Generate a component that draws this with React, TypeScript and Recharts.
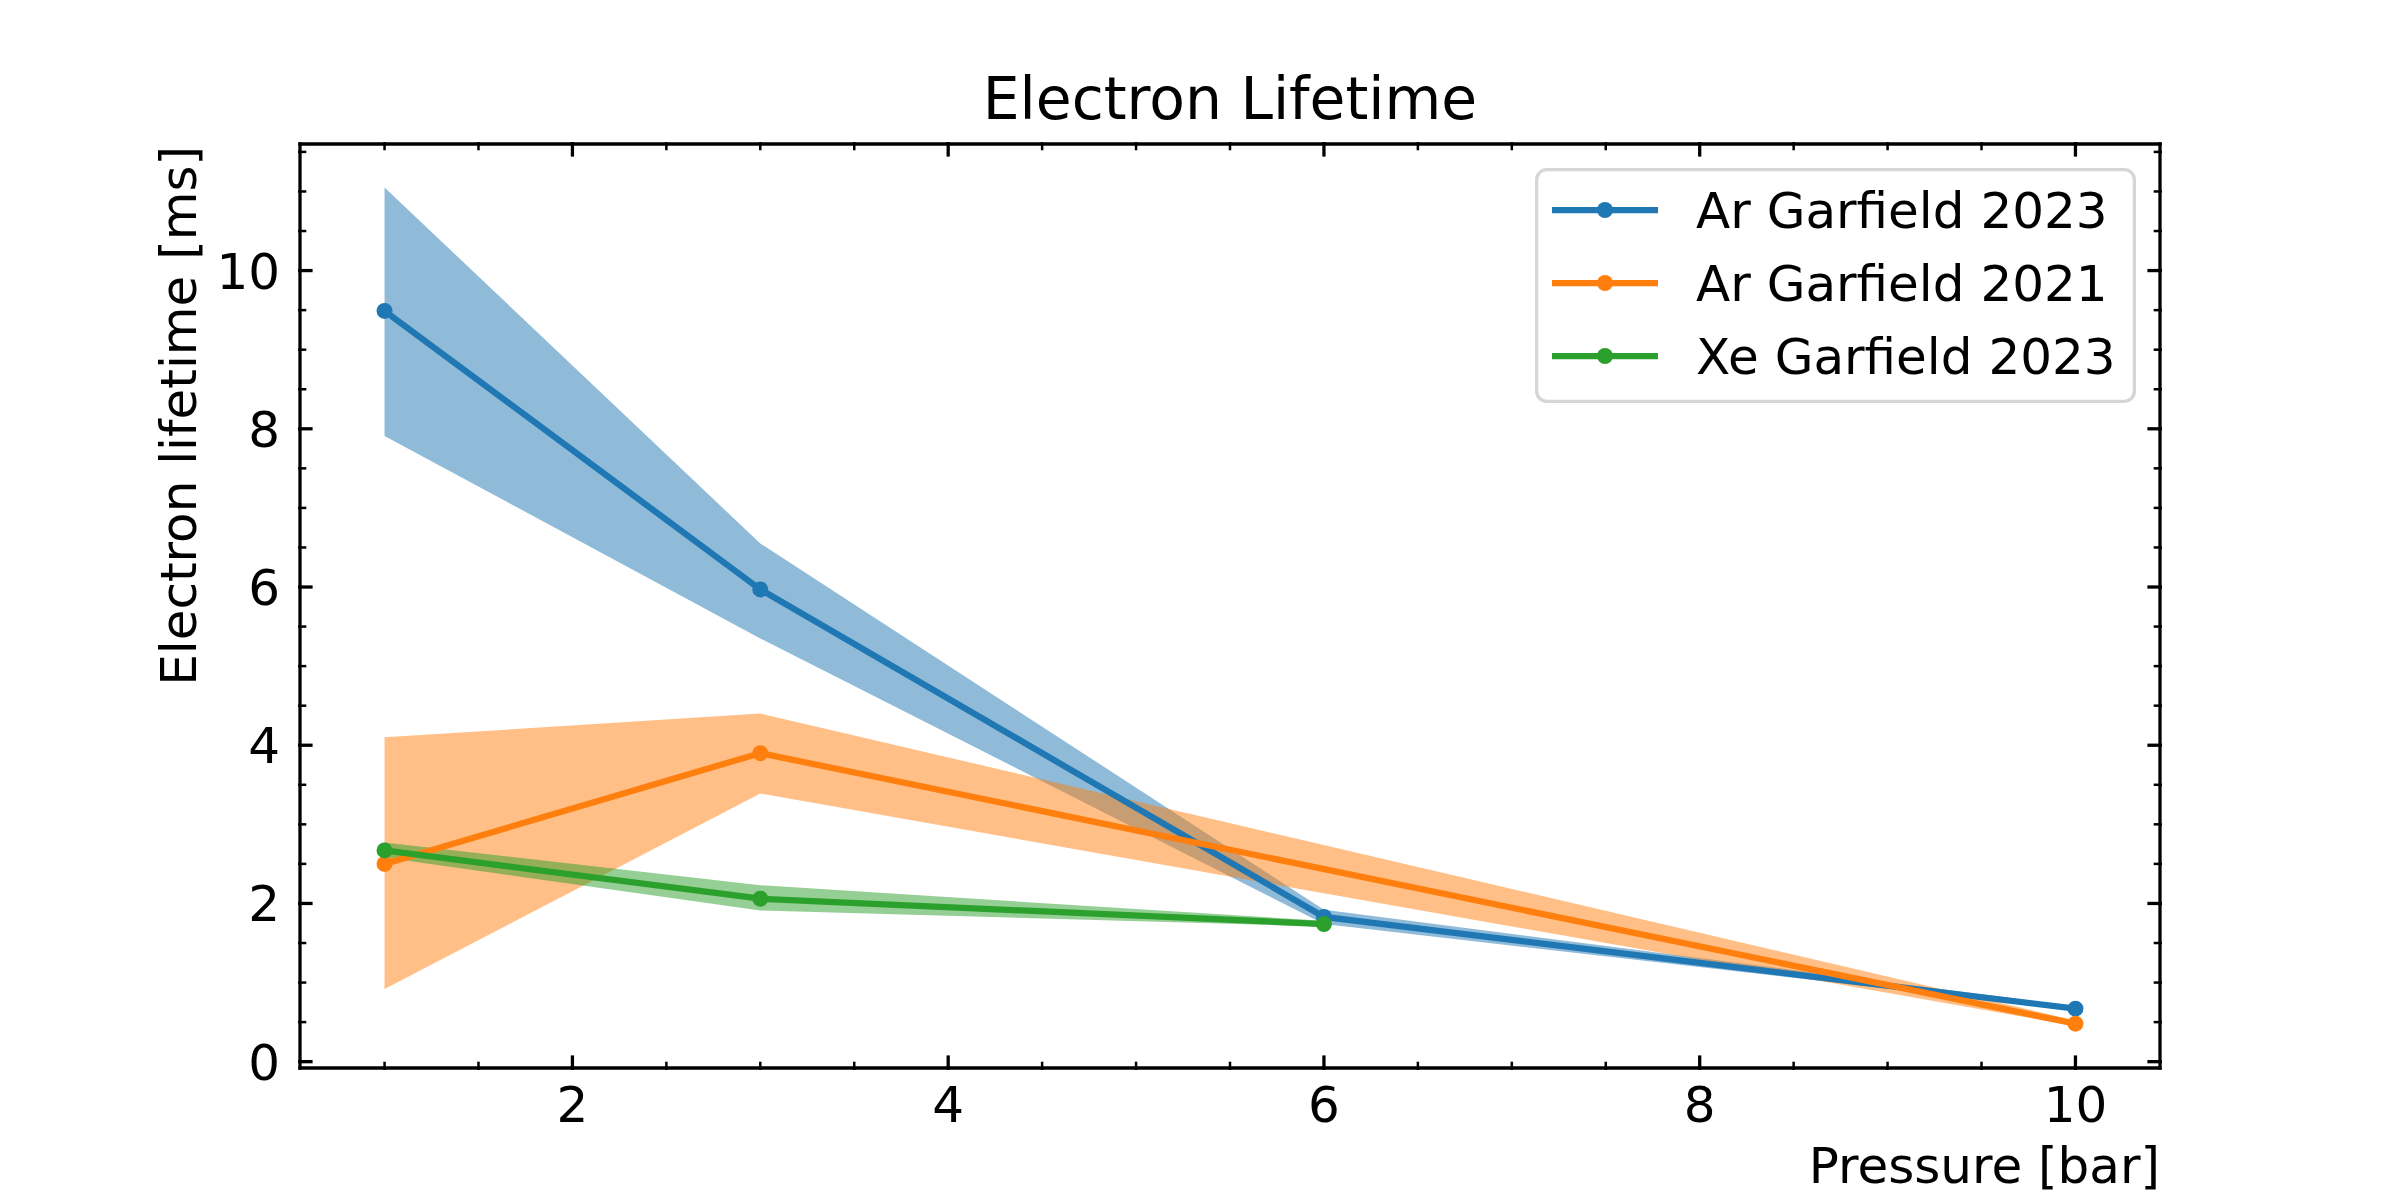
import React from "react";
import { Area, ComposedChart, Label, Legend, Line, XAxis, YAxis } from "recharts";

// pressure [bar] and electron lifetime [ms]
const arPressure2023 = [1, 3, 6, 10];
const arLifetime2023 = [9.49, 5.97, 1.83, 0.67];
const arLow2023 = [7.91, 5.35, 1.74, 0.65];
const arHigh2023 = [11.05, 6.55, 1.92, 0.7];

const arPressure2021 = [1, 3, 10];
const arLifetime2021 = [2.5, 3.9, 0.48];
const arLow2021 = [0.92, 3.39, 0.45];
const arHigh2021 = [4.1, 4.4, 0.52];

const xePressure2023 = [1, 3, 6];
const xeLifetime2023 = [2.67, 2.06, 1.74];
const xeLow2023 = [2.58, 1.91, 1.71];
const xeHigh2023 = [2.77, 2.23, 1.78];

const seriesNames = ["Ar Garfield 2023", "Ar Garfield 2021", "Xe Garfield 2023"];
const colors = ["#1f77b4", "#ff7f0e", "#2ca02c"];

const xMajorTicks = [2, 4, 6, 8, 10];
const xTicks = [1, 1.5, 2, 2.5, 3, 3.5, 4, 4.5, 5, 5.5, 6, 6.5, 7, 7.5, 8, 8.5, 9, 9.5, 10];
const yMajorTicks = [0, 2, 4, 6, 8, 10];
const yTicks = [0, 0.5, 1, 1.5, 2, 2.5, 3, 3.5, 4, 4.5, 5, 5.5, 6, 6.5, 7, 7.5, 8, 8.5, 9, 9.5, 10, 10.5, 11, 11.5];

const font = "'DejaVu Sans', sans-serif";
const MAJOR = 14.6;
const MINOR = 8.3;

function rows(p: number[], y: number[], lo: number[], hi: number[]) {
  return p.map((v, i) => ({ p: v, y: y[i], band: [lo[i], hi[i]] }));
}

const series = [
  rows(arPressure2023, arLifetime2023, arLow2023, arHigh2023),
  rows(arPressure2021, arLifetime2021, arLow2021, arHigh2021),
  rows(xePressure2023, xeLifetime2023, xeLow2023, xeHigh2023),
];

function BottomTick({ x, y, payload }: any) {
  const major = xMajorTicks.includes(payload.value);
  return (
    <g>
      <line x1={x} x2={x} y1={y} y2={y - (major ? MAJOR : MINOR)} stroke="#000" strokeWidth={major ? 3.3 : 2.5} />
      {major && (
        <text x={x} y={y + 52} textAnchor="middle" fontSize={50} fontFamily={font} fill="#000">
          {payload.value}
        </text>
      )}
    </g>
  );
}

function TopTick({ x, y, payload }: any) {
  const major = xMajorTicks.includes(payload.value);
  return <line x1={x} x2={x} y1={y} y2={y + (major ? MAJOR : MINOR)} stroke="#000" strokeWidth={major ? 3.3 : 2.5} />;
}

function LeftTick({ x, y, payload }: any) {
  const major = yMajorTicks.includes(payload.value);
  return (
    <g>
      <line x1={x} x2={x + (major ? MAJOR : MINOR)} y1={y} y2={y} stroke="#000" strokeWidth={major ? 3.3 : 2.5} />
      {major && (
        <text x={x - 18} y={y + 18} textAnchor="end" fontSize={50} fontFamily={font} fill="#000">
          {payload.value}
        </text>
      )}
    </g>
  );
}

function RightTick({ x, y, payload }: any) {
  const major = yMajorTicks.includes(payload.value);
  return <line x1={x} x2={x - (major ? MAJOR : MINOR)} y1={y} y2={y} stroke="#000" strokeWidth={major ? 3.3 : 2.5} />;
}

function LegendBox() {
  const rowY = [42, 115, 188];
  return (
    <svg width={601} height={235} style={{ display: "block" }}>
      <rect x={1.65} y={1.65} width={597.7} height={231.7} rx={10} fill="#fff" fillOpacity={0.8} stroke="#d6d6d6" strokeWidth={3.3} />
      {seriesNames.map((name, i) => (
        <g key={name}>
          <line x1={17} x2={123} y1={rowY[i]} y2={rowY[i]} stroke={colors[i]} strokeWidth={6.25} />
          <circle cx={70} cy={rowY[i]} r={8} fill={colors[i]} />
          <text x={161} y={rowY[i] + 18} fontSize={50} fontFamily={font} fill="#000">
            {name}
          </text>
        </g>
      ))}
    </svg>
  );
}

const spine = { stroke: "#000", strokeWidth: 3.3, strokeLinecap: "square" as const };

export default function App() {
  return (
    <div style={{ position: "absolute", left: 0, top: 0, background: "#fff" }}>
      <ComposedChart width={2400} height={1200} margin={{ top: 0, right: 0, bottom: 0, left: 0 }}>
        <XAxis
          dataKey="p"
          type="number"
          domain={[0.55, 10.45]}
          allowDataOverflow
          ticks={xTicks}
          interval={0}
          tick={<BottomTick />}
          tickLine={false}
          tickSize={0}
          axisLine={spine}
          height={132}
        >
          <Label
            content={() => (
              <text x={2160} y={1183} textAnchor="end" fontSize={50} fontFamily={font} fill="#000">
                Pressure [bar]
              </text>
            )}
          />
        </XAxis>
        <XAxis
          xAxisId="top"
          orientation="top"
          dataKey="p"
          type="number"
          domain={[0.55, 10.45]}
          allowDataOverflow
          ticks={xTicks}
          interval={0}
          tick={<TopTick />}
          tickLine={false}
          tickSize={0}
          axisLine={spine}
          height={144}
        >
          <Label
            content={() => (
              <text x={1230} y={119} textAnchor="middle" fontSize={58.3} fontFamily={font} fill="#000">
                Electron Lifetime
              </text>
            )}
          />
        </XAxis>
        <YAxis
          type="number"
          domain={[-0.08, 11.6]}
          allowDataOverflow
          ticks={yTicks}
          interval={0}
          tick={<LeftTick />}
          tickLine={false}
          tickSize={0}
          axisLine={spine}
          width={300}
        >
          <Label
            content={() => (
              <text
                x={196}
                y={146}
                transform="rotate(-90 196 146)"
                textAnchor="end"
                fontSize={50}
                fontFamily={font}
                fill="#000"
              >
                Electron lifetime [ms]
              </text>
            )}
          />
        </YAxis>
        <YAxis
          yAxisId="right"
          orientation="right"
          type="number"
          domain={[-0.08, 11.6]}
          allowDataOverflow
          ticks={yTicks}
          interval={0}
          tick={<RightTick />}
          tickLine={false}
          tickSize={0}
          axisLine={spine}
          width={240}
        />
        {series.map((data, i) => [
          <Line
            key={`line-${i}`}
            data={data}
            dataKey="y"
            type="linear"
            stroke={colors[i]}
            strokeWidth={6.25}
            dot={{ r: 8, fill: colors[i], stroke: "none" }}
            activeDot={false}
            isAnimationActive={false}
            legendType="none"
          />,
          <Area
            key={`band-${i}`}
            data={data}
            dataKey="band"
            type="linear"
            stroke="none"
            fill={colors[i]}
            fillOpacity={0.5}
            activeDot={false}
            isAnimationActive={false}
            legendType="none"
          />,
        ])}
        <Legend
          layout="vertical"
          align="center"
          verticalAlign="middle"
          wrapperStyle={{ left: 1535, top: 168, width: 601, height: 235 }}
          content={() => <LegendBox />}
        />
      </ComposedChart>
    </div>
  );
}
